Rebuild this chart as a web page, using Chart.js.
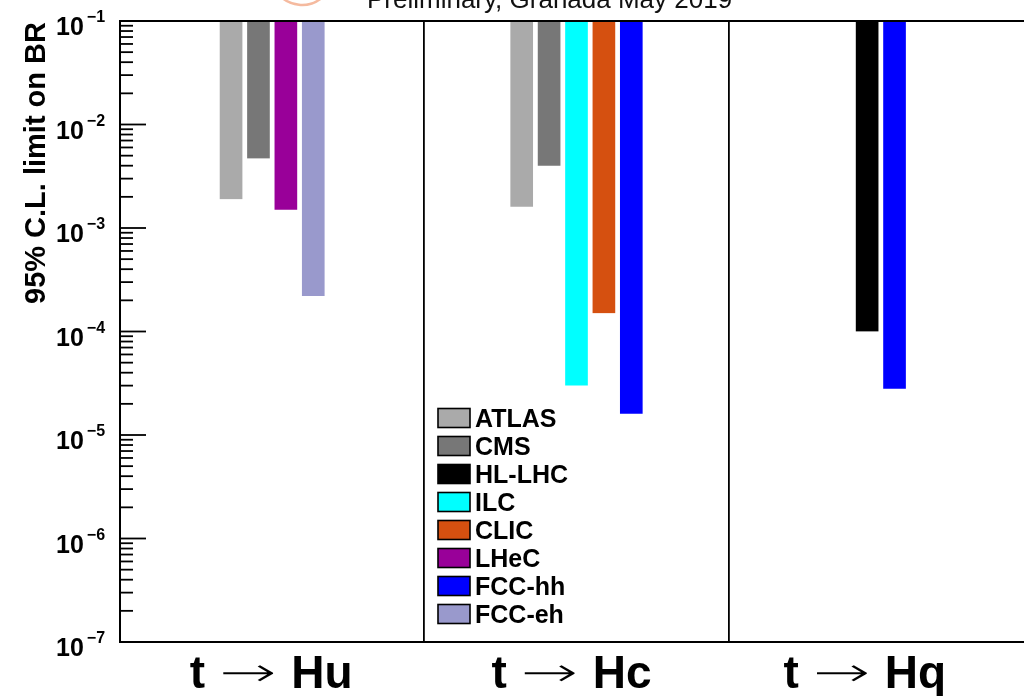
<!DOCTYPE html>
<html><head><meta charset="utf-8">
<script src="https://cdn.jsdelivr.net/npm/chart.js@4.4.1/dist/chart.umd.min.js"></script>
<style>
html,body{margin:0;padding:0;background:#fff;overflow:hidden;width:1024px;height:696px}
#wrap{position:absolute;left:0;top:0;width:1040px;height:696px}
</style>
</head><body><div id="wrap"><canvas id="c" width="1040" height="696"></canvas></div>
<script>
// ---- data ----
const categories = ['t → Hu', 't → Hc', 't → Hq'];
const experiments = ['ATLAS', 'CMS', 'HL-LHC', 'ILC', 'CLIC', 'LHeC', 'FCC-hh', 'FCC-eh'];
const expColors = ['#aaaaaa', '#777777', '#000000', '#00ffff', '#d55010', '#990099', '#0000ff', '#9999cc'];
const atlas = [1.9e-3, 1.6e-3, null];
const cms   = [4.7e-3, 4.0e-3, null];
const hllhc = [null, null, 1.0e-4];
const ilc   = [null, 3.0e-5, null];
const clic  = [null, 1.5e-4, null];
const lhec  = [1.5e-3, null, null];
const fcchh = [null, 1.6e-5, 2.8e-5];
const fcceh = [2.2e-4, null, null];
const seriesValues = [atlas, cms, hllhc, ilc, clic, lhec, fcchh, fcceh];
const yMin = 1e-7, yMax = 1e-1;
const tickExponents = [-1, -2, -3, -4, -5, -6, -7];
const yTitle = '95% C.L. limit on BR';
const topText = 'Preliminary, Granada May 2019';

const FONT = "'Liberation Sans', Arial, Helvetica, sans-serif";
const ARROW_FONT = "200 40px 'DejaVu Sans ExtraLight', 'DejaVu Sans'";

const datasets = experiments.map((name, i) => ({
  label: name,
  data: seriesValues[i],
  backgroundColor: expColors[i],
  borderColor: '#ffffff',
  borderWidth: {left: 2.7, right: 2.7, top: 0, bottom: 0},
  borderSkipped: false,
  base: yMax,
  barThickness: 27.4,
  skipNull: true
}));

const decor = {
  id: 'decor',
  afterDraw(chart) {
    const ctx = chart.ctx;
    const ca = chart.chartArea;
    const ys = chart.scales.y;
    const xs = chart.scales.x;
    ctx.save();
    // top frame line
    ctx.strokeStyle = '#000';
    ctx.lineWidth = 2;
    ctx.beginPath();
    ctx.moveTo(ca.left - 1, ca.top);
    ctx.lineTo(ca.right, ca.top);
    ctx.stroke();
    // y ticks (inside)
    ctx.lineWidth = 1.8;
    for (let e = -7; e <= -1; e++) {
      for (let m = 1; m <= 9; m++) {
        const v = m * Math.pow(10, e);
        if (v > yMax * 1.0001) break;
        const y = ys.getPixelForValue(v);
        const len = m === 1 ? 26 : 13;
        ctx.beginPath();
        ctx.moveTo(ca.left, y);
        ctx.lineTo(ca.left + len, y);
        ctx.stroke();
      }
    }
    // y tick labels 10^n
    ctx.fillStyle = '#000';
    ctx.textAlign = 'left';
    ctx.textBaseline = 'alphabetic';
    tickExponents.forEach(ex => {
      const y = ys.getPixelForValue(Math.pow(10, ex));
      ctx.font = 'bold 25px ' + FONT;
      ctx.fillText('10', 56, y + 14);
      const w = ctx.measureText('10').width;
      ctx.font = 'bold 16px ' + FONT;
      ctx.fillText('\u2212' + Math.abs(ex), 56 + w + 3, y + 1);
    });
    // y title
    ctx.save();
    ctx.translate(45, 163);
    ctx.rotate(-Math.PI / 2);
    ctx.font = 'bold 29px ' + FONT;
    ctx.textAlign = 'center';
    ctx.fillText(yTitle, 0, 0);
    ctx.restore();
    // category labels
    const offs = [-1, -5, -16];
    categories.forEach((lab, i) => {
      const parts = lab.split('→').map(s => s.trim());
      ctx.font = 'bold 46px ' + FONT;
      const w1 = ctx.measureText(parts[0]).width;
      const w3 = ctx.measureText(parts[1]).width;
      ctx.font = ARROW_FONT;
      const am = ctx.measureText('→');
      const inkW = am.actualBoundingBoxLeft + am.actualBoundingBoxRight;
      const arrowW = 51;
      const sx = arrowW / inkW;
      const g1 = 18, g2 = 17;
      const tot = w1 + g1 + arrowW + g2 + w3;
      let x = xs.getPixelForValue(i) + offs[i] - tot / 2;
      const yb = 688;
      ctx.textAlign = 'left';
      ctx.font = 'bold 46px ' + FONT;
      ctx.fillText(parts[0], x, yb);
      x += w1 + g1;
      ctx.save();
      ctx.font = ARROW_FONT;
      const ab = 673 - (am.actualBoundingBoxDescent - am.actualBoundingBoxAscent) / 2;
      ctx.translate(x, 0);
      ctx.scale(sx, 1);
      ctx.fillText('→', am.actualBoundingBoxLeft, ab);
      ctx.restore();
      x += arrowW + g2;
      ctx.font = 'bold 46px ' + FONT;
      ctx.fillText(parts[1], x, yb);
    });
    // legend
    const lx = 438, ly0 = 418, dy = 28;
    chart.data.datasets.forEach((ds, i) => {
      const cy = ly0 + dy * i;
      ctx.fillStyle = ds.backgroundColor;
      ctx.fillRect(lx, cy - 9.5, 32, 19);
      ctx.strokeStyle = '#000';
      ctx.lineWidth = 1.6;
      ctx.strokeRect(lx, cy - 9.5, 32, 19);
      ctx.fillStyle = '#000';
      ctx.font = 'bold 25px ' + FONT;
      ctx.textAlign = 'left';
      ctx.fillText(ds.label, lx + 37, cy + 9);
    });
    // top text (cut off)
    ctx.fillStyle = '#111';
    ctx.font = 'normal 26px ' + FONT;
    ctx.fillText(topText, 367, 8);
    // logo arc (cut off)
    ctx.strokeStyle = 'rgba(238,140,95,0.6)';
    ctx.lineWidth = 2.5;
    ctx.beginPath();
    ctx.arc(302, -26, 31, 0.1, Math.PI - 0.1);
    ctx.stroke();
    ctx.restore();
  }
};

new Chart(document.getElementById('c'), {
  type: 'bar',
  data: { labels: categories, datasets },
  options: {
    responsive: false,
    animation: false,
    devicePixelRatio: 1,
    layout: { padding: { left: 120, top: 21, right: 7, bottom: 54 } },
    plugins: { legend: { display: false }, tooltip: { enabled: false }, title: { display: false } },
    scales: {
      x: {
        type: 'category',
        offset: true,
        grid: { offset: true, color: '#000', lineWidth: 1.8, drawTicks: false },
        border: { display: true, color: '#000', width: 2 },
        ticks: { display: false }
      },
      y: {
        type: 'logarithmic',
        min: yMin,
        max: yMax,
        grid: { display: false, drawTicks: false },
        border: { display: true, color: '#000', width: 2 },
        ticks: { display: false }
      }
    }
  },
  plugins: [decor]
});
</script>
</body></html>
